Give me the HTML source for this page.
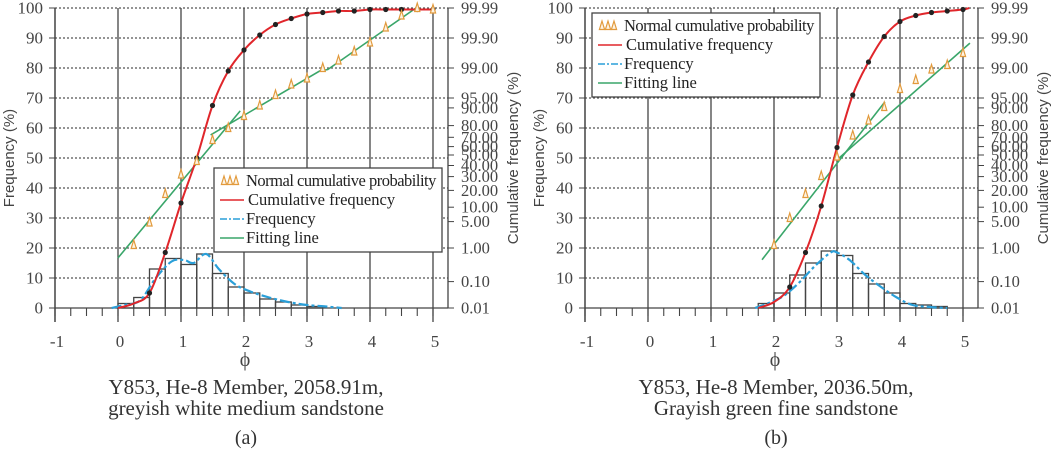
<!DOCTYPE html>
<html><head><meta charset="utf-8"><style>
body{margin:0;background:#fff}
svg{display:block;font-family:"Liberation Serif",serif}
</style></head><body>
<svg id="s" width="1059" height="455" viewBox="0 0 1059 455"></svg>
<script>
// ---- data (a) ----
const phiTicks=[-1,0,1,2,3,4,5];
const freqTicks=[0,10,20,30,40,50,60,70,80,90,100];
const cumLabels=["99.99","99.90","99.00","95.00","90.00","80.00","70.00","60.00","50.00","40.00","30.00","20.00","10.00","5.00","1.00","0.10","0.01"];
const cumLabelPos=[100,90,80,70,66.7,60.8,56.9,53.8,51,47.5,43.8,39.2,33.6,28.8,20,8.8,0];
const aBinStart=[0,0.25,0.5,0.75,1,1.25,1.5,1.75,2,2.25,2.5,2.75,3];
const aBinFreq=[1.5,3.5,13,16.5,14.5,18,11.5,7,5,3,2,1,0.5];
const aCurvePhi=[-0.1,0.1,0.35,0.6,0.85,1.05,1.2,1.4,1.6,1.85,2.1,2.4,2.7,3.0,3.3,3.55];
const aCurveFreq=[0,1,2.5,10,15.5,16,15,18,13,8,5.5,3.5,2,1,0.5,0];
const aCumPhi=[0,0.25,0.5,0.75,1,1.25,1.5,1.75,2,2.25,2.5,2.75,3,3.25,3.5,3.75,4,4.25,4.5,4.75,5];
const aCum=[0,1.5,5,18.5,35,50,67.5,79,86,91,94.5,96.5,98,98.5,99,99,99.5,99.5,99.5,99.5,99.5];
const aDots=[0.5,0.75,1,1.25,1.5,1.75,2,2.25,2.5,2.75,3,3.25,3.5,3.75,4,4.25,4.5,4.75,5];
const aNormPhi=[0.25,0.5,0.75,1,1.25,1.5,1.75,2,2.25,2.5,2.75,3,3.25,3.5,3.75,4,4.25,4.5,4.75,5];
const aNorm=[21,28.5,38,44.5,49,56,60,64,67.5,71,74.5,76.5,80,82.5,85.5,88.5,93.5,97.5,100,99.5];
const aFit1=[[0,16.7],[1.94,65.7]];
const aFit2=[[1.47,57.7],[3.2,79],[3.33,79.5],[4.73,100]];
// ---- data (b) ----
const bBinStart=[1.75,2,2.25,2.5,2.75,3,3.25,3.5,3.75,4,4.25,4.5];
const bBinFreq=[1.5,5,11,15,19,17.5,11.5,8,5,1.5,1,0.5];
const bCurvePhi=[1.7,1.9,2.15,2.4,2.65,2.9,3.0,3.2,3.45,3.7,3.95,4.2,4.5,4.75];
const bCurveFreq=[0,1.5,4,8.5,14,18.5,18.5,16,11,7,3.5,1,0.3,0];
const bCumPhi=[1.75,2,2.25,2.5,2.75,3,3.25,3.5,3.75,4,4.25,4.5,4.75,5,5.1];
const bCum=[0,2,7,18.5,34,53.5,71,82,90.5,95.5,97.5,98.5,99,99.5,100];
const bDots=[2.25,2.5,2.75,3,3.25,3.5,3.75,4,4.25,4.5,4.75,5];
const bNormPhi=[2,2.25,2.5,2.75,3,3.25,3.5,3.75,4,4.25,4.5,4.75,5];
const bNorm=[21,30,38,44,50.5,57.5,62.5,67,73,76,79.5,81,85];
const bFit1=[[1.81,16.1],[3.76,68.7]];
const bFit2=[[3,49.4],[5.11,88.3]];

const NS="http://www.w3.org/2000/svg";
const svg=document.getElementById('s');
function mk(tag,attrs,parent,text){const e=document.createElementNS(NS,tag);for(const k in attrs)e.setAttribute(k,attrs[k]);if(text!==undefined)e.textContent=text;(parent||svg).appendChild(e);return e;}
function smooth(pts){let d="M"+pts[0][0]+","+pts[0][1];for(let i=0;i<pts.length-1;i++){const p0=pts[i-1]||pts[i],p1=pts[i],p2=pts[i+1],p3=pts[i+2]||p2;
d+=" C"+(p1[0]+(p2[0]-p0[0])/6)+","+(p1[1]+(p2[1]-p0[1])/6)+" "+(p2[0]-(p3[0]-p1[0])/6)+","+(p2[1]-(p3[1]-p1[1])/6)+" "+p2[0]+","+p2[1];}return d;}
function tri(x,y,parent){return mk('polygon',{points:`${x},${y-5} ${x-2.6},${y+3.5} ${x+2.6},${y+3.5}`,fill:'#fdf3e3',stroke:'#e29a3c','stroke-width':1.2},parent);}

function chart(ox,D,cap1,cap2,tag,legX,legY){
  const X=v=>ox+118+v*63, Y=v=>308-v*3;
  const g=mk('g',{});
  
  
  const left=X(-1), right=ox+448;
  freqTicks.forEach(t=>{if(t>0){const l=mk('line',{x1:left,x2:right,y1:Y(t),y2:Y(t),stroke:'#555','stroke-width':1.2,'stroke-dasharray':'2,2'},g);}});
  phiTicks.forEach(t=>{const l=mk('line',{x1:X(t),x2:X(t),y1:Y(100),y2:322,stroke:'#444','stroke-width':1.3},g);
    const tx=mk('text',{x:X(t)+2,y:347,'font-size':17,fill:'#444','text-anchor':'middle'},g,String(t));});
  for(let v=-1;v<=5.01;v+=0.25){mk('line',{x1:X(v),x2:X(v),y1:308,y2:316,stroke:'#444','stroke-width':1.1},g);}
  mk('line',{x1:left,x2:right,y1:308,y2:308,stroke:'#444','stroke-width':1.3},g);
  mk('line',{x1:left,x2:left,y1:Y(100),y2:322,stroke:'#444','stroke-width':1.3},g);
  mk('line',{x1:right,x2:right,y1:Y(100),y2:308,stroke:'#444','stroke-width':1.3},g);
  freqTicks.forEach(t=>{mk('line',{x1:left-6,x2:left,y1:Y(t),y2:Y(t),stroke:'#444'},g);
    const tx=mk('text',{x:left-12,y:Y(t)+5.5,'font-size':17,fill:'#444','text-anchor':'end'},g,String(t));});
  cumLabels.forEach((s,i)=>{mk('line',{x1:right,x2:right+6,y1:Y(cumLabelPos[i]),y2:Y(cumLabelPos[i]),stroke:'#444'},g);
    const tx=mk('text',{x:right+13,y:Y(cumLabelPos[i])+5.5,'font-size':16.5,fill:'#444'},g,s);});
  let t=mk('text',{transform:`translate(${ox+14},158) rotate(-90)`,'font-size':15,fill:'#444','text-anchor':'middle','font-family':'Liberation Sans,sans-serif'},g,'Frequency (%)');
  t=mk('text',{transform:`translate(${ox+518},158) rotate(-90)`,'font-size':15,fill:'#444','text-anchor':'middle','font-family':'Liberation Sans,sans-serif'},g,'Cumulative frequency (%)');
  t=mk('text',{x:X(2)+1,y:366,'font-size':20,fill:'#444','text-anchor':'middle'},g,'ϕ');
  t=mk('text',{x:X(2)+2,y:394,'font-size':21,fill:'#333','text-anchor':'middle'},g,cap1);
  t=mk('text',{x:X(2)+2,y:415,'font-size':21,fill:'#333','text-anchor':'middle'},g,cap2);
  t=mk('text',{x:X(2)+2,y:444,'font-size':20,fill:'#333','text-anchor':'middle'},g,'('+tag+')');
  D.bs.forEach((b,i)=>{const r=mk('rect',{x:X(b),y:Y(D.bf[i]),width:63*0.25,height:D.bf[i]*3,fill:'none',stroke:'#444','stroke-width':1.3},g);});
  let p=mk('path',{d:smooth(D.cp.map((v,i)=>[X(v),Y(D.cf[i])])),fill:'none',stroke:'#2a9fd8','stroke-width':2.2,'stroke-dasharray':'10,3,3,3'},g);
  [D.f1,D.f2].forEach(f=>{const l=mk('polyline',{points:f.map(q=>X(q[0])+','+Y(q[1])).join(' '),fill:'none',stroke:'#3aa66a','stroke-width':1.6},g);});
  p=mk('path',{d:smooth(D.up.map((v,i)=>[X(v),Y(D.uf[i])])),fill:'none',stroke:'#e0262b','stroke-width':2},g);
  D.dots.forEach(v=>{const i=D.up.indexOf(v);const c=mk('circle',{cx:X(v),cy:Y(D.uf[i]),r:2.6,fill:'#222'},g);});
  D.np.forEach((v,i)=>{const tr=tri(X(v),Y(D.nf[i]),g);});
  const lg=mk('g',{},g);
  mk('rect',{x:legX,y:legY,width:228,height:84,fill:'#fff',stroke:'#444','stroke-width':1.3},lg);
  for(let k=0;k<3;k++){tri(legX+10+k*6,legY+13,lg);}
  const items=[['Normal cumulative probability',null],['Cumulative frequency','#e0262b'],['Frequency','#2a9fd8'],['Fitting line','#3aa66a']];
  items.forEach((it,k)=>{const y=legY+18+k*19;
    if(it[1])mk('line',{x1:legX+6,x2:legX+30,y1:y-5,y2:y-5,stroke:it[1],'stroke-width':1.6,'stroke-dasharray':k==2?'7,2,2,2':'none'},lg);
    const tx=mk('text',{x:k==1?legX+34:legX+32,y:y,'font-size':16.5,fill:'#222','letter-spacing':k==0?'-0.5':'0'},lg,it[0]);});
}
chart(0,{bs:aBinStart,bf:aBinFreq,cp:aCurvePhi,cf:aCurveFreq,up:aCumPhi,uf:aCum,dots:aDots,np:aNormPhi,nf:aNorm,f1:aFit1,f2:aFit2},'Y853, He-8 Member, 2058.91m,','greyish white medium sandstone','a',214,168);
chart(530,{bs:bBinStart,bf:bBinFreq,cp:bCurvePhi,cf:bCurveFreq,up:bCumPhi,uf:bCum,dots:bDots,np:bNormPhi,nf:bNorm,f1:bFit1,f2:bFit2},'Y853, He-8 Member, 2036.50m,','Grayish green fine sandstone','b',592,13);
</script>
</body></html>
